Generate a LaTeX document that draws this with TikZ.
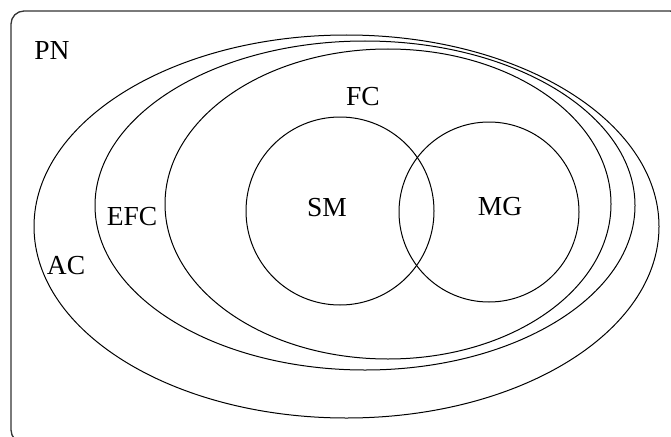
\documentclass[tikz,border=0pt]{standalone}
\usepackage{fontspec}
\setmainfont{Liberation Serif}
\begin{document}
\begin{tikzpicture}[x=1pt,y=-1pt,
  region/.style={draw=black, line width=1pt},
  lbl/.style={font=\fontsize{27.5}{30}\selectfont, inner sep=0pt},
  frame/.style={draw=black!80, line width=1.3pt, rounded corners=13pt}]
\useasboundingbox (0,0) rectangle (671,436);
% outer frame, running past the right and bottom edges
\begin{scope}
  \clip (0,0) rectangle (671,436);
  \draw[frame] (11,11) rectangle (683,443);
\end{scope}
% nested classes
\draw[region] (346.5,226.5) ellipse [x radius=312.5, y radius=191.5];
\draw[region] (365,205.5) ellipse [x radius=270, y radius=164.5];
\draw[region] (388,204) ellipse [x radius=223, y radius=155];
% overlapping circles
\draw[region] (340,211) circle [radius=94];
\draw[region] (489,212) circle [radius=90];
% labels
\node[lbl] (pn)  at (52,50)    {PN};
\node[lbl] (ac)  at (66,265.5) {AC};
\node[lbl] (efc) at (132,217)  {EFC};
\node[lbl] (fc)  at (363,97)   {FC};
\node[lbl] (sm)  at (327,207.5){SM};
\node[lbl] (mg)  at (500,206.5){MG};
\end{tikzpicture}
\end{document}
